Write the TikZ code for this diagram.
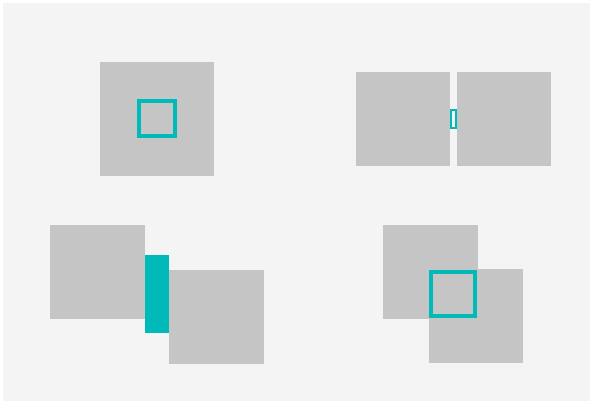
\documentclass[tikz,border=0pt]{standalone}
\definecolor{bgc}{HTML}{F4F4F4}
\definecolor{sq}{HTML}{C4C5C4}
\definecolor{cy}{HTML}{00B9B9}
\tikzset{
  graysq/.style={fill=sq, draw=none},
  cyline/.style={draw=cy, line width=#1},
  cyfill/.style={fill=cy, draw=none}
}
\begin{document}
\begin{tikzpicture}[x=1pt,y=-1pt]
\useasboundingbox (0,0) rectangle (590,401);
\fill[white] (0,0) rectangle (590,401);
\fill[bgc] (3,3) rectangle (590,401);
% top left
\path[graysq] (100,62) rectangle (214,176);
\draw[cyline=4pt] (139,101) rectangle (175,136);
% top right
\path[graysq] (356,72) rectangle (450,166);
\path[graysq] (457,72) rectangle (551,166);
\draw[cyline=1.8pt] (451,110) rectangle (456,128);
% bottom left
\path[graysq] (50,225) rectangle (145,319);
\path[cyfill] (145,255) rectangle (169,333);
\path[graysq] (169,270) rectangle (264,364);
% bottom right
\path[graysq] (383,225) rectangle (478,319);
\path[graysq] (429,269) rectangle (523,363);
\draw[cyline=4pt] (431,272) rectangle (475,316);
\end{tikzpicture}
\end{document}
